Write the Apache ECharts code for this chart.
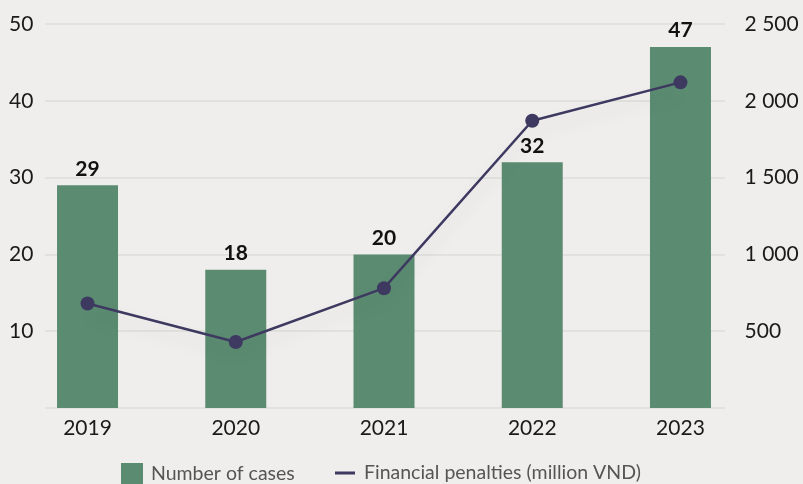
<!DOCTYPE html>
<html>
<head>
<meta charset="utf-8">
<script src="https://cdn.jsdelivr.net/npm/echarts@6/dist/echarts.min.js"></script>
<style>
  html, body { margin: 0; padding: 0; background: #efeeec; }
  #chart { width: 803px; height: 484px; }
</style>
</head>
<body>
<div id="chart"></div>
<script>
var years = ['2019', '2020', '2021', '2022', '2023']
var cases = [29, 18, 20, 32, 47]
var penalties = [680, 430, 780, 1870, 2120]
var leftTicks = [0, 50, 10]      // min, max, interval
var rightTicks = [0, 2500, 500]

var font = 'Lato, "Noto Sans", sans-serif'

function spaced(v) {
  return String(v).replace(/\B(?=(\d{3})+(?!\d))/g, ' ')
}

var chart = echarts.init(document.getElementById('chart'))

chart.setOption({
  backgroundColor: '#efeeec',
  animation: false,
  textStyle: { fontFamily: font },
  legend: [{
    data: ['Number of cases'],
    left: 121,
    top: 463,
    padding: 0,
    itemWidth: 22,
    itemHeight: 22,
    icon: 'rect',
    textStyle: { fontFamily: font, fontSize: 19.5, color: '#555', padding: [0, 0, 0, 3] }
  }, {
    data: ['Financial penalties (million VND)'],
    left: 335,
    top: 463,
    padding: 0,
    itemWidth: 20,
    itemHeight: 3,
    icon: 'rect',
    textStyle: { fontFamily: font, fontSize: 19.5, color: '#555', padding: [0, 0, 0, 4] }
  }],
  grid: [
    { left: 13.4, right: 48.4, top: 24, bottom: 76 },
    { left: 45, right: 78, top: 24, bottom: 76 }
  ],
  xAxis: [{
    type: 'category',
    gridIndex: 0,
    data: years,
    axisLine: { show: false },
    axisTick: { show: false },
    axisLabel: { fontFamily: font, fontSize: 21, color: '#1a1a1a', margin: 10 }
  }, {
    type: 'value',
    gridIndex: 1,
    show: false,
    min: 0,
    max: 1
  }],
  yAxis: [{
    type: 'value',
    gridIndex: 0,
    min: leftTicks[0],
    max: leftTicks[1],
    interval: leftTicks[2],
    position: 'left',
    splitLine: { show: false },
    axisLine: { show: false },
    axisTick: { show: false },
    axisLabel: {
      fontFamily: font, fontSize: 21, color: '#1a1a1a', margin: -20,
      formatter: function (v) { return v === 0 ? '' : v }
    }
  }, {
    type: 'value',
    gridIndex: 0,
    min: rightTicks[0],
    max: rightTicks[1],
    interval: rightTicks[2],
    position: 'right',
    splitLine: { show: false },
    axisLine: { show: false },
    axisTick: { show: false },
    axisLabel: {
      fontFamily: font, fontSize: 21, color: '#1a1a1a', margin: -10,
      formatter: function (v) { return v === 0 ? '' : spaced(v) }
    }
  }, {
    type: 'value',
    gridIndex: 1,
    min: leftTicks[0],
    max: leftTicks[1],
    interval: leftTicks[2],
    axisLine: { show: false },
    axisTick: { show: false },
    axisLabel: { show: false },
    splitLine: { lineStyle: { color: '#dddcda', width: 1.5 } }
  }],
  series: [{
    name: 'Number of cases',
    type: 'bar',
    xAxisIndex: 0,
    yAxisIndex: 0,
    data: cases,
    barWidth: 61,
    itemStyle: { color: '#5b8c71' },
    label: {
      show: true,
      position: 'top',
      distance: 6,
      fontFamily: font,
      fontSize: 21,
      fontWeight: 'bold',
      color: '#111'
    }
  }, {
    name: 'Financial penalties (million VND)',
    type: 'line',
    xAxisIndex: 0,
    yAxisIndex: 1,
    data: penalties,
    symbol: 'circle',
    symbolSize: 14,
    itemStyle: { color: '#3e3960' },
    lineStyle: {
      color: '#3e3960',
      width: 2.5,
      shadowColor: 'rgba(0,0,0,0.12)',
      shadowBlur: 18,
      shadowOffsetY: 10
    },
    z: 5
  }]
})
</script>
</body>
</html>
